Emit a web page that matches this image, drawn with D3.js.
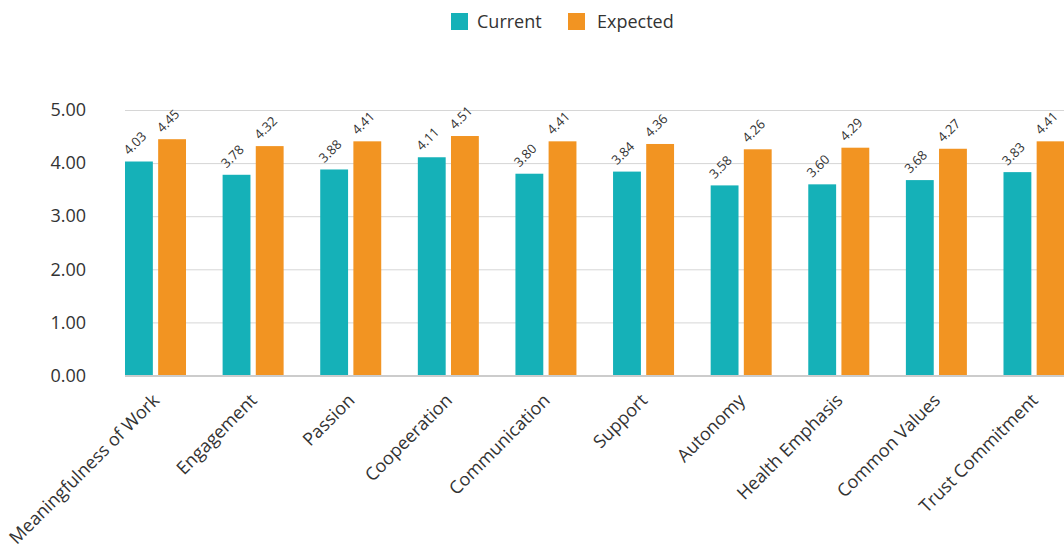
<!DOCTYPE html>
<html><head><meta charset="utf-8">
<script src="https://cdn.jsdelivr.net/npm/d3@7"></script>
<style>body{margin:0;background:#fff;overflow:hidden}svg{display:block;font-family:"Open Sans",sans-serif}</style>
</head><body><svg id="c" width="1064" height="546"></svg>
<script>
const categories = ["Meaningfulness of Work","Engagement","Passion","Coopeeration","Communication","Support","Autonomy","Health Emphasis","Common Values","Trust Commitment"];
const seriesNames = ["Current","Expected"];
const current = [4.03,3.78,3.88,4.11,3.80,3.84,3.58,3.60,3.68,3.83];
const expected = [4.45,4.32,4.41,4.51,4.41,4.36,4.26,4.29,4.27,4.41];
const yTicks = [0,1,2,3,4,5];
const colors = ["#15b1b8","#f29422"];

(function(){
const svg = d3.select("#c");
const pLeft = 125, pRight = 1064.5, pTop = 110, pBottom = 375.5;
const x0 = d3.scaleBand().domain(categories).range([pLeft,pRight]).paddingInner(0.375).paddingOuter(0);
const x1 = d3.scaleBand().domain(seriesNames).range([0,x0.bandwidth()]).paddingInner(0.16);
const y = d3.scaleLinear().domain([0,5]).range([pBottom,pTop]);
const color = d3.scaleOrdinal().domain(seriesNames).range(colors);

const yAxis = d3.axisLeft(y).tickValues(yTicks).tickFormat(d3.format(".2f")).tickSize(-(pRight-pLeft)).tickPadding(39);
const ga = svg.append("g").attr("transform",`translate(${pLeft},0)`).call(yAxis);
ga.select(".domain").remove();
ga.selectAll(".tick line").attr("stroke","#d6d6d6").attr("stroke-width",1);
ga.selectAll(".tick text").attr("fill","#333").style("font-size","18px").style("font-family","'Open Sans',sans-serif");

const data = categories.map((c,i)=>({cat:c, vals:[{k:"Current",v:current[i]},{k:"Expected",v:expected[i]}]}));
const groups = svg.append("g").selectAll("g").data(data).join("g").attr("transform",d=>`translate(${x0(d.cat)},0)`);
groups.selectAll("rect").data(d=>d.vals).join("rect")
  .attr("x",d=>x1(d.k)).attr("width",x1.bandwidth())
  .attr("y",d=>y(d.v)).attr("height",d=>y(0)-y(d.v))
  .attr("fill",d=>color(d.k));
groups.selectAll("text.val").data(d=>d.vals).join("text").attr("class","val")
  .attr("transform",d=>`translate(${x1(d.k)+4},${y(d.v)-6}) rotate(-45)`)
  .attr("fill","#333").style("font-size","13px").text(d=>d.v.toFixed(2));

svg.append("line").attr("x1",pLeft).attr("x2",pRight).attr("y1",y(0)+0.5).attr("y2",y(0)+0.5).attr("stroke","#cccccc").attr("stroke-width",2);

const xAxis = d3.axisBottom(x0).tickSize(0).tickPadding(0);
const gx = svg.append("g").attr("transform",`translate(0,${pBottom})`).call(xAxis);
gx.select(".domain").remove();
gx.selectAll(".tick text").attr("fill","#333").style("font-size","18px").style("font-family","'Open Sans',sans-serif")
  .attr("text-anchor","end").attr("dy",null).attr("y",null)
  .attr("transform","translate(5,26) rotate(-45)");

const legend = svg.append("g");
const lx = [451,568], tx = [477,597];
seriesNames.forEach((s,i)=>{
  legend.append("rect").attr("x",lx[i]).attr("y",13).attr("width",17).attr("height",17).attr("fill",colors[i]);
  legend.append("text").attr("x",tx[i]).attr("y",28).attr("fill","#333").style("font-size","18px").text(s);
});
})();
</script></body></html>
